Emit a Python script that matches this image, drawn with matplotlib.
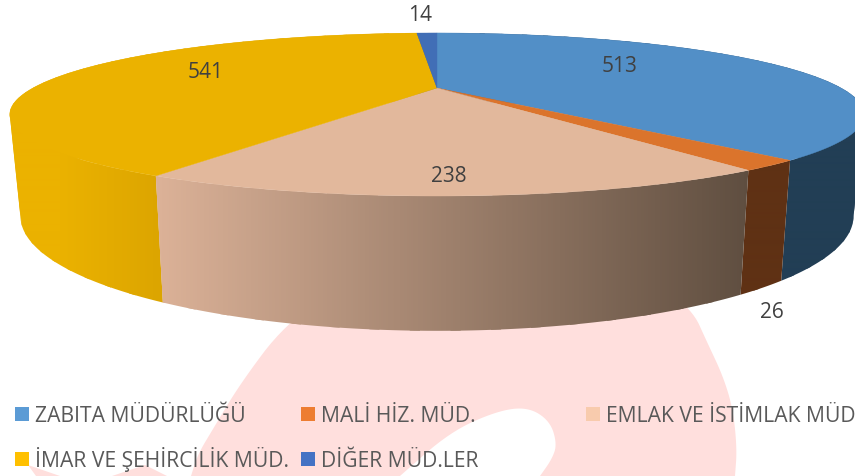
import numpy as np
import matplotlib
matplotlib.use("Agg")
import matplotlib.pyplot as plt
from matplotlib.colors import LinearSegmentedColormap
from matplotlib.patches import Polygon, Rectangle

categories = ["ZABITA MÜDÜRLÜĞÜ", "MALİ HİZ. MÜD.", "EMLAK VE İSTİMLAK MÜD.",
              "İMAR VE ŞEHİRCİLİK MÜD.", "DİĞER MÜD.LER"]
values = [513, 26, 238, 541, 14]

top_colors = ["#528FC7", "#DB742C", "#E2B89C", "#EBB200", "#416EB6"]
legend_colors = ["#5B9BD5", "#ED7D31", "#F8CBAD", "#FFC000", "#4472C4"]
# side colour at the left and right end of each slice wall
side_colors = [("#223E55", "#223E55"), ("#5F3114", "#5F3114"), ("#DCB298", "#5F4E40"),
               ("#EBB200", "#DCA500"), ("#2A4A7A", "#2A4A7A")]
side_ranges = [(0, 855), (0, 855), (155, 750), (60, 160), (0, 855)]

label_pos = [(620, 71.7), (772, 318.5), (448.5, 181.7), (206, 78), (420.5, 21)]
legend_pos = [(15, 408), (301, 408), (586, 408), (15, 453), (301, 453)]

# perspective of the disc
cx, cy = 437, 89
A, B, k = 404, 72.9, 0.325
depth = 91
shrink = 0.975


def project(theta, low=False):
    u = np.sin(theta)
    v = np.cos(theta)
    s = 1 / (1 + k * v)
    if low:
        return cx + shrink * A * u * s, cy - B * v * s + depth * s
    return cx + A * u * s, cy - B * v * s


def chaikin(pts, n=3):
    # rounds the corners of the watermark outline, ends stay put
    pts = np.array(pts, dtype=float)
    for _ in range(n):
        q = pts[:-1] * 0.75 + pts[1:] * 0.25
        r = pts[:-1] * 0.25 + pts[1:] * 0.75
        mid = np.empty((len(q) * 2, 2))
        mid[0::2] = q
        mid[1::2] = r
        pts = np.vstack([pts[0], mid, pts[-1]])
    return pts


fig = plt.figure(figsize=(8.55, 4.77), dpi=100)
ax = fig.add_axes([0, 0, 1, 1])

# watermark behind the chart
pink = "#FFDFDD"
left_edge = chaikin([(191, 477), (198, 455), (213, 430), (240, 385), (285, 325), (350, 280)])
right_edge = chaikin([(650, 280), (692, 310), (707, 343), (723, 377), (733, 410), (737, 450), (735, 477)])
wedge = [(112, 477), (145, 466), (167, 477)]
ax.add_patch(Polygon(np.vstack([wedge, left_edge, right_edge]), fc=pink, ec="none", zorder=0))
hole = chaikin([(400, 477), (450, 433), (497, 412), (528, 408), (550, 422), (557, 445), (552, 460), (540, 477)])
ax.add_patch(Polygon(hole, fc="white", ec="none", zorder=0.5))
ax.add_patch(Polygon([(28, 466), (36, 477), (60, 477)], fc=pink, ec="none", zorder=0))

edges = np.cumsum([0] + values) / sum(values) * 2 * np.pi

# side wall: short overlapping pieces, each one a clipped gradient
pieces = []
for i in range(len(values)):
    starts = np.arange(edges[i], edges[i + 1], np.radians(4))
    for t0 in starts:
        t1 = min(t0 + np.radians(5), edges[i + 1])
        pieces.append((-np.cos((t0 + t1) / 2), i, t0, t1))
pieces.sort(key=lambda p: p[0])

xgrid = np.linspace(0, 855, 856)
grads = []
for i in range(len(values)):
    x0, x1 = side_ranges[i]
    grads.append(np.clip((xgrid - x0) / (x1 - x0), 0, 1)[None, :])
cmaps = [LinearSegmentedColormap.from_list("side%d" % i, c) for i, c in enumerate(side_colors)]

for _, i, t0, t1 in pieces:
    th = np.linspace(t0, t1, 12)
    xa, ya = project(th)
    xb, yb = project(th[::-1], low=True)
    outline = Polygon(np.column_stack([np.r_[xa, xb], np.r_[ya, yb]]), transform=ax.transData,
                      fc="none", ec="none")
    ax.add_patch(outline)
    im = ax.imshow(grads[i], cmap=cmaps[i], vmin=0, vmax=1, extent=(0, 855, 477, 0),
                   aspect="auto", interpolation="bilinear", zorder=1)
    im.set_clip_path(outline)

# top of the pie
for i in range(len(values)):
    th = np.linspace(edges[i], edges[i + 1], 200)
    xs, ys = project(th)
    pts = [(cx, cy)] + list(zip(xs, ys))
    ax.add_patch(Polygon(pts, fc=top_colors[i], ec=top_colors[i], lw=0.3, zorder=2))

for v, (x, y) in zip(values, label_pos):
    ax.text(x, y, str(v), ha="center", va="baseline", fontsize=15, family="Open Sans",
            color="#404040", zorder=3)

for name, col, (x, y) in zip(categories, legend_colors, legend_pos):
    ax.add_patch(Rectangle((x, y), 14, 14, fc=col, ec="none", zorder=3))
    ax.text(x + 20, y + 14, name, ha="left", va="baseline", fontsize=15.2, family="Open Sans",
            color="#595959", zorder=3)

ax.set_xlim(0, 855)
ax.set_ylim(477, 0)
ax.axis("off")
fig.savefig("out.png", dpi=100)
